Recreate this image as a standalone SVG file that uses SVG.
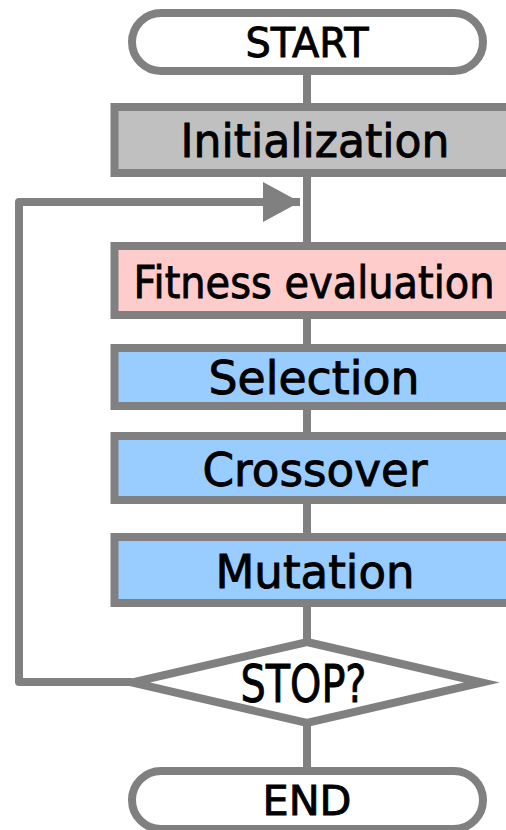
<svg xmlns="http://www.w3.org/2000/svg" width="506" height="830" viewBox="0 0 506 830">
  <style>
    .edge { fill: none; stroke: #808080; stroke-width: 8; stroke-linejoin: round; }
    .term { fill: #ffffff; stroke: #808080; stroke-width: 8; }
    .box { stroke: #808080; stroke-width: 8; }
    .init { fill: #c0c0c0; }
    .fit { fill: #ffcccc; }
    .op { fill: #99ccff; }
    .dec { fill: #ffffff; stroke: #808080; stroke-width: 8; stroke-miterlimit: 10; }
    .lbl { font-family: "DejaVu Sans", "Liberation Sans", sans-serif; fill: #000000; stroke: #000000; stroke-width: 0.9; text-anchor: middle; }
  </style>
  <defs>
    <marker id="arrow" markerUnits="userSpaceOnUse" markerWidth="40" markerHeight="42" refX="37" refY="20" orient="auto">
      <polygon points="0,0 37,20 0,40" fill="#808080"/>
    </marker>
  </defs>

  <!-- flow connectors -->
  <g id="connectors">
    <line class="edge" x1="307" y1="71" x2="307" y2="107"/>
    <line class="edge" x1="307" y1="173" x2="307" y2="246"/>
    <line class="edge" x1="307" y1="315" x2="307" y2="348"/>
    <line class="edge" x1="307" y1="406" x2="307" y2="436"/>
    <line class="edge" x1="307" y1="500" x2="307" y2="537"/>
    <line class="edge" x1="307" y1="603" x2="307" y2="642"/>
    <line class="edge" x1="307" y1="723" x2="307" y2="771"/>
    <!-- loop back from decision to the top of the cycle -->
    <polyline class="edge" points="132,682 19,682 19,202 300,202" marker-end="url(#arrow)"/>
  </g>

  <g id="start">
    <rect class="term" x="132" y="13" width="351" height="58" rx="29" ry="29"/>
    <text class="lbl" x="307" y="57" font-size="41" textLength="123" lengthAdjust="spacingAndGlyphs">START</text>
  </g>

  <g id="initialization">
    <rect class="box init" x="114.5" y="107" width="420" height="66"/>
    <text class="lbl" x="315" y="157" font-size="46" textLength="269" lengthAdjust="spacingAndGlyphs">Initialization</text>
  </g>

  <g id="fitness">
    <rect class="box fit" x="114.5" y="246" width="420" height="69"/>
    <text class="lbl" x="314" y="298" font-size="44" textLength="361" lengthAdjust="spacingAndGlyphs">Fitness evaluation</text>
  </g>

  <g id="selection">
    <rect class="box op" x="114.5" y="348" width="420" height="58"/>
    <text class="lbl" x="314" y="394" font-size="46" textLength="211" lengthAdjust="spacingAndGlyphs">Selection</text>
  </g>

  <g id="crossover">
    <rect class="box op" x="114.5" y="436" width="420" height="64"/>
    <text class="lbl" x="315" y="486" font-size="46" textLength="225" lengthAdjust="spacingAndGlyphs">Crossover</text>
  </g>

  <g id="mutation">
    <rect class="box op" x="114.5" y="537" width="420" height="66"/>
    <text class="lbl" x="315" y="588" font-size="46" textLength="199" lengthAdjust="spacingAndGlyphs">Mutation</text>
  </g>

  <g id="stop">
    <polygon class="dec" points="307,642 482,682.5 307,723 132,682.5"/>
    <text class="lbl" x="303.5" y="702" font-size="51" textLength="126" lengthAdjust="spacingAndGlyphs">STOP?</text>
  </g>

  <g id="end">
    <rect class="term" x="132" y="771" width="351" height="58" rx="29" ry="29"/>
    <text class="lbl" x="307" y="815" font-size="41" textLength="89" lengthAdjust="spacingAndGlyphs">END</text>
  </g>
</svg>
